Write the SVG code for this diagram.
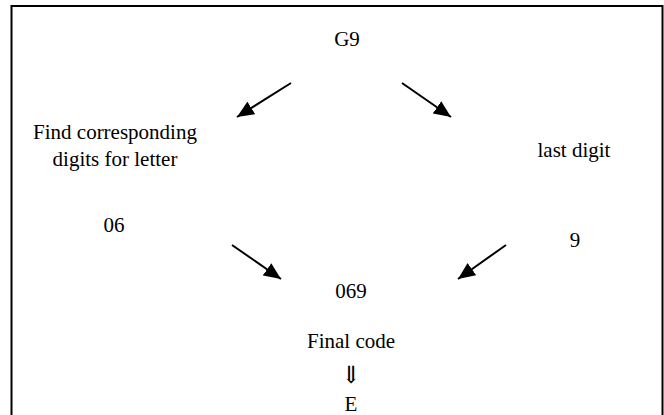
<svg xmlns="http://www.w3.org/2000/svg" width="664" height="415" viewBox="0 0 664 415">
<style>
text{font-family:'Liberation Serif','DejaVu Serif',serif;font-size:21px;fill:#000}
.c{text-anchor:middle}
.ar{stroke:#000;stroke-width:2;fill:none;marker-end:url(#ah)}
</style>
<defs>
<marker id="ah" viewBox="0 0 16 14" refX="16" refY="7" markerWidth="17" markerHeight="15" markerUnits="userSpaceOnUse" orient="auto">
<path d="M0,0 L16,7 L0,14 z" fill="#000"/>
</marker>
</defs>
<rect x="11.5" y="6" width="651" height="420" fill="#fff" stroke="#000" stroke-width="2"/>
<g id="connectors">
<line class="ar" x1="291" y1="83" x2="237" y2="117"/>
<line class="ar" x1="402" y1="83" x2="451" y2="117"/>
<line class="ar" x1="232" y1="245" x2="281" y2="279"/>
<line class="ar" x1="506" y1="245" x2="458" y2="279"/>
</g>
<g id="n-g9"><text class="c" x="347" y="46">G9</text></g>
<g id="n-find"><text class="c" x="115" y="139">Find corresponding</text><text class="c" x="115" y="166">digits for letter</text></g>
<g id="n-last"><text class="c" x="574" y="157">last digit</text></g>
<g id="n-06"><text class="c" x="114" y="232">06</text></g>
<g id="n-9"><text class="c" x="575" y="247">9</text></g>
<g id="n-069"><text class="c" x="351" y="298">069</text></g>
<g id="n-final"><text class="c" x="351" y="348">Final code</text></g>
<g id="n-arrow"><text class="c" x="351" y="383" style="font-size:24px">⇓</text></g>
<g id="n-e"><text class="c" x="351" y="411">E</text></g>
</svg>
